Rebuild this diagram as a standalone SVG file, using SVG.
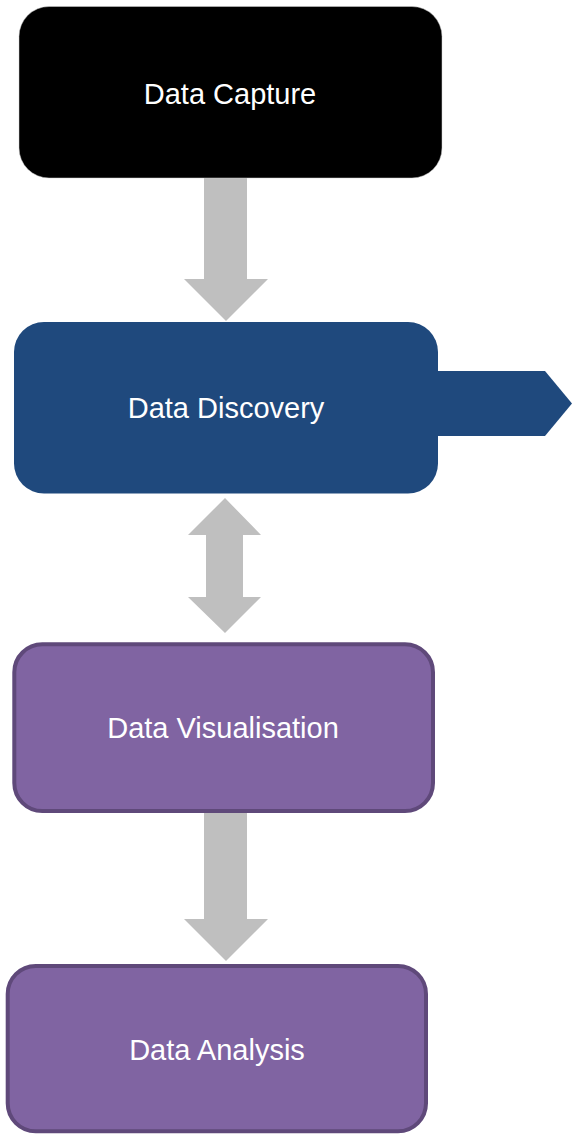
<svg xmlns="http://www.w3.org/2000/svg" width="572" height="1134" viewBox="0 0 572 1134">
<style>
.lbl{font-family:"Liberation Sans",Arial,sans-serif;font-size:29px;fill:#ffffff;text-anchor:middle}
.conn{fill:#bfbfbf}
.purple{fill:#8064a2;stroke:#5f497a;stroke-width:4}
</style>
<rect width="572" height="1134" fill="#ffffff"/>
<g id="connectors">
<polygon class="conn" points="204,178 247,178 247,279 268,279 226,321 184,279 204,279"/>
<polygon class="conn" points="225,498 261,535 243,535 243,597 261,597 225,633 188,597 206,597 206,535 188,535"/>
<polygon class="conn" points="204,813 247,813 247,919 268,919 226,961 184,919 204,919"/>
</g>
<g id="data-capture">
<rect x="19" y="6.5" width="423" height="171.5" rx="30" fill="#000000" stroke="#d0d0d0" stroke-width="0.5"/>
<text class="lbl" x="230" y="104">Data Capture</text>
</g>
<g id="data-discovery">
<polygon points="430,371 545,371 572,403.5 545,436 430,436" fill="#1f497d"/>
<rect x="14" y="322" width="424" height="171.5" rx="30" fill="#1f497d"/>
<text class="lbl" x="226" y="418">Data Discovery</text>
</g>
<g id="data-visualisation">
<rect class="purple" x="14.3" y="644.3" width="418.7" height="166.7" rx="28"/>
<text class="lbl" x="223" y="738">Data Visualisation</text>
</g>
<g id="data-analysis">
<rect class="purple" x="7.7" y="966" width="418.3" height="165.3" rx="28"/>
<text class="lbl" x="217" y="1060">Data Analysis</text>
</g>
</svg>
